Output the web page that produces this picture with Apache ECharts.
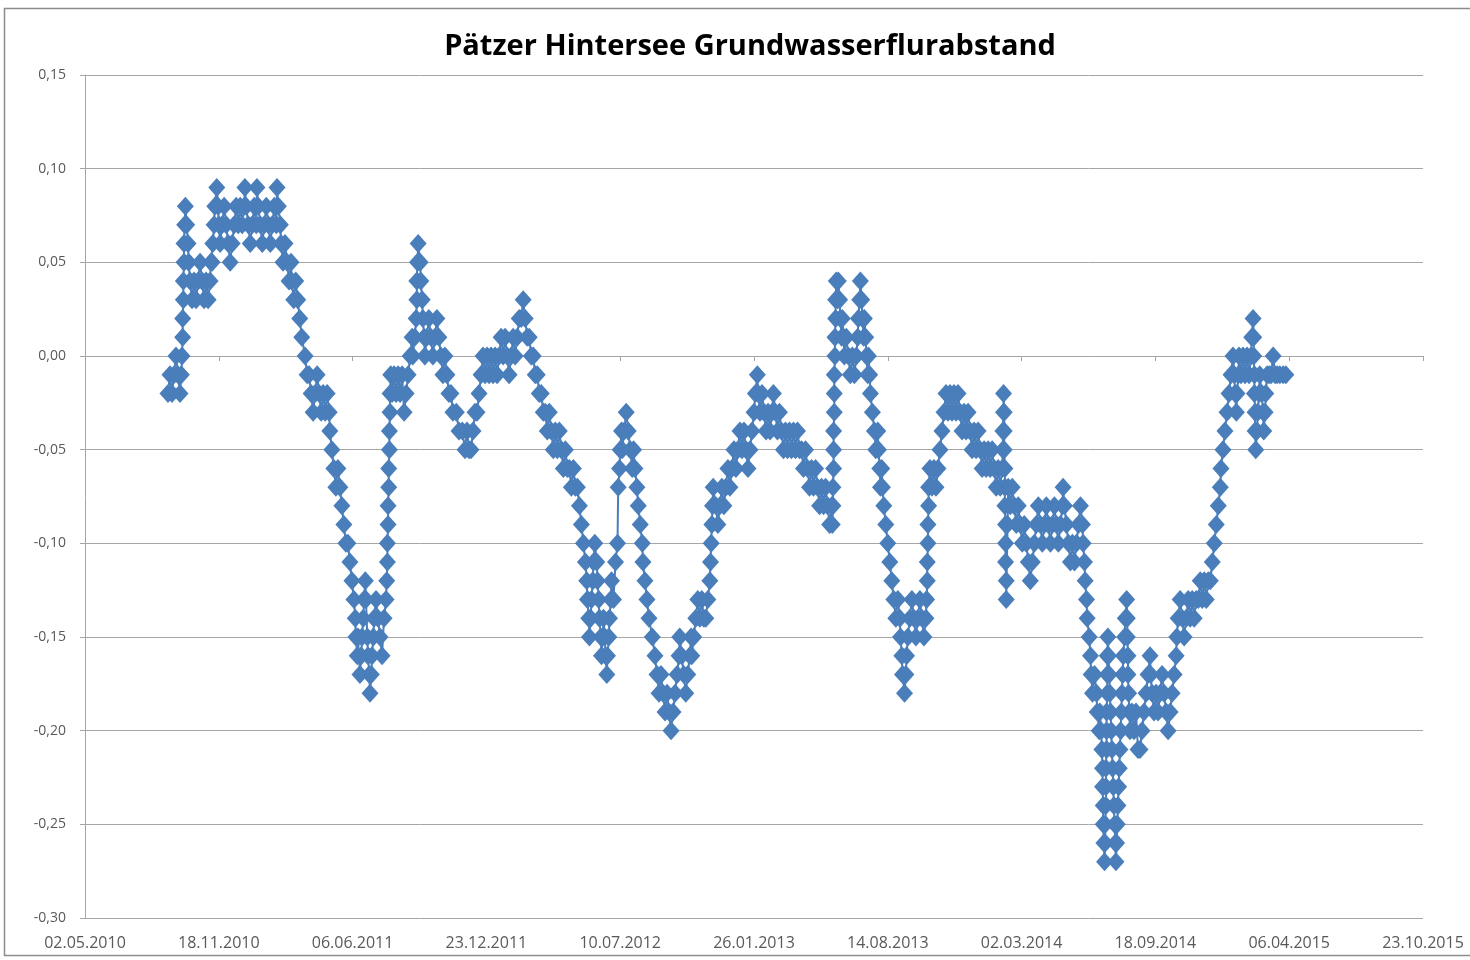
<!DOCTYPE html>
<html>
<head>
<meta charset="utf-8">
<title>Pätzer Hintersee Grundwasserflurabstand</title>
<script src="https://cdn.jsdelivr.net/npm/echarts@6/dist/echarts.min.js"></script>
<style>
  html, body { margin: 0; padding: 0; background: #fff; }
  #chart { width: 1470px; height: 960px; }
</style>
</head>
<body>
<div id="chart"></div>
<script>
// readings: [Excel date serial, Grundwasserflurabstand in m]
const obs2010 = [
  [40424,-0.02],[40427,-0.01],[40430,-0.02],[40433,-0.01],[40436,0.00],[40439,-0.01],[40442,-0.02],[40444,-0.01],[40445,0.00],
  [40446,0.01],[40446,0.02],[40447,0.03],[40447,0.04],[40448,0.05],[40448,0.06],[40449,0.07],[40450,0.08],
  [40452,0.07],[40454,0.06],[40455,0.05],[40457,0.04],[40460,0.03],[40463,0.04],[40466,0.03],[40469,0.04],[40472,0.05],
  [40475,0.04],[40478,0.03],[40481,0.04],[40484,0.03],[40487,0.04],[40488,0.05],[40490,0.05],[40491,0.06],[40493,0.07],
  [40494,0.08],[40497,0.09],[40499,0.08],[40500,0.07],[40502,0.06],[40505,0.07],[40508,0.08],[40511,0.07],[40514,0.06],
  [40517,0.05],[40520,0.06],[40523,0.07],[40526,0.08],[40529,0.07],[40532,0.08],[40535,0.07],[40538,0.08],[40539,0.09],
  [40541,0.08]
];
const obs2011 = [
  [40544,0.07],[40547,0.06],[40550,0.07],[40553,0.08],[40556,0.07],[40557,0.09],[40559,0.08],[40562,0.07],[40565,0.06],
  [40568,0.07],[40571,0.08],[40574,0.07],[40577,0.06],[40580,0.07],[40583,0.08],[40586,0.07],[40587,0.09],[40589,0.08],
  [40592,0.07],[40593,0.06],[40596,0.05],[40599,0.06],[40602,0.05],[40605,0.04],[40608,0.05],[40609,0.04],[40612,0.03],
  [40615,0.04],[40618,0.03],[40621,0.02],[40624,0.01],[40629,0.00],[40632,-0.01],[40635,-0.01],[40638,-0.02],[40641,-0.03],
  [40644,-0.02],[40647,-0.01],[40650,-0.02],[40653,-0.03],[40656,-0.02],[40659,-0.03],[40662,-0.02],[40665,-0.03],[40666,-0.04],
  [40669,-0.05],[40672,-0.06],[40675,-0.07],[40678,-0.06],[40681,-0.07],[40684,-0.08],[40687,-0.09],[40690,-0.10],[40693,-0.10],
  [40696,-0.11],[40699,-0.12],[40702,-0.13],[40704,-0.14],[40705,-0.15],[40707,-0.16],[40708,-0.15],[40711,-0.17],[40713,-0.16],
  [40714,-0.15],[40716,-0.14],[40717,-0.13],[40719,-0.12],[40720,-0.13],[40722,-0.15],[40723,-0.16],[40725,-0.17],[40726,-0.18],
  [40728,-0.17],[40729,-0.16],[40731,-0.15],[40732,-0.14],[40735,-0.13],[40738,-0.14],[40741,-0.15],[40744,-0.16],[40747,-0.14],
  [40750,-0.13],[40751,-0.12],[40752,-0.11],[40752,-0.10],[40753,-0.09],[40753,-0.08],[40754,-0.07],[40754,-0.06],[40755,-0.05],
  [40755,-0.04],[40756,-0.03],[40756,-0.02],[40757,-0.01],[40759,-0.02],[40762,-0.01],[40765,-0.02],[40768,-0.01],[40771,-0.02],
  [40774,-0.01],[40777,-0.03],[40780,-0.02],[40783,-0.01],[40786,0.00],[40789,0.01],[40790,0.00],[40793,0.01],[40795,0.02],
  [40796,0.03],[40796,0.04],[40797,0.05],[40798,0.06],[40801,0.05],[40802,0.04],[40804,0.03],[40805,0.02],[40807,0.01],
  [40808,0.00],[40811,0.01],[40814,0.02],[40817,0.01],[40820,0.00],[40823,0.01],[40826,0.02],[40829,0.01],[40832,0.00],
  [40835,-0.01],[40838,0.00],[40841,-0.01],[40844,-0.02],[40847,-0.02],[40850,-0.03],[40855,-0.03],[40859,-0.04],[40864,-0.04],
  [40868,-0.05],[40871,-0.04],[40874,-0.05],[40877,-0.05],[40880,-0.04],[40883,-0.03],[40886,-0.03],[40889,-0.02],[40892,-0.01],
  [40895,0.00],[40898,-0.01],[40901,0.00],[40904,-0.01],[40907,0.00]
];
const obs2012 = [
  [40910,-0.01],[40913,0.00],[40916,-0.01],[40919,0.00],[40922,0.01],[40925,0.00],[40928,0.01],[40931,0.00],[40934,-0.01],
  [40937,0.00],[40940,0.01],[40943,0.00],[40946,0.01],[40949,0.02],[40952,0.02],[40955,0.03],[40958,0.02],[40961,0.01],
  [40964,0.01],[40967,0.00],[40970,0.00],[40973,-0.01],[40976,-0.01],[40979,-0.02],[40982,-0.02],[40985,-0.03],[40988,-0.03],
  [40991,-0.04],[40994,-0.03],[40997,-0.04],[41000,-0.05],[41003,-0.04],[41006,-0.05],[41009,-0.04],[41012,-0.05],[41015,-0.06],
  [41018,-0.05],[41021,-0.06],[41024,-0.06],[41027,-0.07],[41030,-0.06],[41033,-0.07],[41036,-0.07],[41039,-0.08],[41042,-0.09],
  [41045,-0.10],[41048,-0.11],[41050,-0.12],[41051,-0.13],[41053,-0.14],[41054,-0.15],[41056,-0.14],[41057,-0.13],[41059,-0.12],
  [41060,-0.11],[41062,-0.10],[41065,-0.11],[41066,-0.12],[41068,-0.13],[41069,-0.14],[41071,-0.15],[41072,-0.16],[41074,-0.15],
  [41075,-0.14],[41077,-0.15],[41078,-0.16],[41080,-0.17],[41081,-0.16],[41083,-0.15],[41084,-0.14],[41086,-0.13],[41087,-0.12],
  [41090,-0.13],[41093,-0.11],[41096,-0.10],[41097,-0.07],[41099,-0.06],[41100,-0.05],[41102,-0.04],[41103,-0.05],[41106,-0.04],
  [41109,-0.03],[41112,-0.04],[41115,-0.05],[41118,-0.06],[41120,-0.05],[41122,-0.06],[41125,-0.07],[41127,-0.08],[41130,-0.09],
  [41133,-0.10],[41134,-0.11],[41137,-0.12],[41140,-0.13],[41143,-0.14],[41148,-0.15],[41152,-0.16],[41155,-0.17],[41158,-0.18],
  [41161,-0.17],[41164,-0.18],[41167,-0.19],[41170,-0.18],[41173,-0.19],[41176,-0.20],[41179,-0.19],[41182,-0.18],[41185,-0.17],
  [41188,-0.16],[41189,-0.15],[41192,-0.16],[41195,-0.17],[41198,-0.18],[41201,-0.17],[41204,-0.16],[41206,-0.15],[41207,-0.16],
  [41210,-0.15],[41213,-0.14],[41216,-0.13],[41219,-0.14],[41222,-0.13],[41225,-0.14],[41228,-0.14],[41231,-0.13],[41234,-0.12],
  [41235,-0.11],[41236,-0.10],[41237,-0.09],[41238,-0.08],[41239,-0.07],[41243,-0.08],[41246,-0.09],[41249,-0.08],[41252,-0.07],
  [41255,-0.08],[41258,-0.07],[41261,-0.06],[41264,-0.07],[41267,-0.06],[41270,-0.05],[41273,-0.06]
];
const obs2013 = [
  [41276,-0.05],[41279,-0.04],[41282,-0.05],[41285,-0.04],[41288,-0.05],[41291,-0.06],[41294,-0.05],[41297,-0.04],[41300,-0.03],
  [41302,-0.02],[41305,-0.01],[41306,-0.02],[41309,-0.03],[41312,-0.02],[41315,-0.03],[41318,-0.04],[41321,-0.03],[41324,-0.04],
  [41327,-0.03],[41329,-0.02],[41332,-0.03],[41335,-0.04],[41338,-0.03],[41341,-0.04],[41344,-0.05],[41347,-0.04],[41350,-0.05],
  [41353,-0.04],[41356,-0.05],[41359,-0.04],[41362,-0.05],[41365,-0.04],[41368,-0.05],[41371,-0.05],[41374,-0.06],[41377,-0.05],
  [41380,-0.06],[41383,-0.07],[41386,-0.06],[41389,-0.07],[41392,-0.06],[41395,-0.07],[41398,-0.08],[41401,-0.07],[41404,-0.08],
  [41407,-0.07],[41410,-0.08],[41413,-0.09],[41416,-0.08],[41417,-0.09],
  [41418,-0.08],[41418,-0.07],[41419,-0.06],[41419,-0.05],[41419,-0.04],[41420,-0.03],[41420,-0.02],[41420,-0.01],[41421,0.00],
  [41421,0.01],[41422,0.02],[41422,0.03],[41423,0.04],
  [41425,0.03],[41426,0.04],[41428,0.03],[41429,0.02],[41431,0.01],[41432,0.02],[41434,0.01],[41435,0.00],[41438,0.01],
  [41441,0.00],[41444,-0.01],[41447,0.00],[41450,-0.01],[41453,0.00],[41455,0.01],[41456,0.02],[41458,0.03],[41459,0.04],
  [41461,0.03],[41462,0.02],[41464,0.01],[41465,0.02],[41467,0.01],[41468,0.00],[41470,-0.01],[41471,0.00],[41473,-0.01],
  [41474,-0.02],[41477,-0.03],[41480,-0.04],[41482,-0.05],[41485,-0.04],[41486,-0.05],[41488,-0.06],[41489,-0.07],[41491,-0.06],
  [41492,-0.07],[41494,-0.08],[41497,-0.09],[41500,-0.10],[41503,-0.11],[41506,-0.12],[41509,-0.13],[41512,-0.14],[41515,-0.13],
  [41518,-0.14],[41519,-0.15],[41521,-0.16],[41522,-0.17],[41525,-0.18],[41527,-0.17],[41528,-0.16],[41530,-0.15],[41533,-0.14],
  [41536,-0.13],[41539,-0.14],[41542,-0.15],[41545,-0.14],[41548,-0.13],[41551,-0.14],[41554,-0.15],[41557,-0.14],[41558,-0.13],
  [41559,-0.12],[41559,-0.11],[41560,-0.10],[41560,-0.09],[41561,-0.08],[41561,-0.07],[41563,-0.06],[41566,-0.07],[41569,-0.06],
  [41572,-0.07],[41575,-0.06],[41578,-0.05],[41581,-0.04],[41584,-0.03],[41587,-0.02],[41590,-0.03],[41593,-0.02],[41596,-0.03],
  [41599,-0.02],[41602,-0.03],[41605,-0.02],[41608,-0.03],[41611,-0.04],[41614,-0.03],[41617,-0.04],[41620,-0.03],[41623,-0.04],
  [41626,-0.05],[41629,-0.04],[41632,-0.05],[41635,-0.04],[41638,-0.05]
];
const obs2014 = [
  [41641,-0.06],[41644,-0.05],[41647,-0.06],[41650,-0.05],[41653,-0.06],[41656,-0.05],[41659,-0.06],[41662,-0.07],[41665,-0.06],
  [41668,-0.07],[41671,-0.06],[41672,-0.05],[41672,-0.04],[41673,-0.03],[41673,-0.02],[41674,-0.03],[41674,-0.04],[41674,-0.05],
  [41675,-0.06],[41675,-0.07],[41675,-0.08],[41676,-0.09],[41676,-0.10],[41676,-0.11],[41677,-0.12],[41677,-0.13],[41679,-0.09],
  [41680,-0.07],[41683,-0.08],[41686,-0.07],[41689,-0.08],[41692,-0.09],[41695,-0.08],[41698,-0.09],[41701,-0.10],[41704,-0.09],
  [41707,-0.10],[41710,-0.11],[41713,-0.12],[41716,-0.11],[41719,-0.10],[41722,-0.09],[41725,-0.08],[41728,-0.09],[41731,-0.10],
  [41734,-0.09],[41737,-0.08],[41740,-0.09],[41743,-0.10],[41746,-0.09],[41749,-0.08],[41752,-0.09],[41755,-0.10],[41758,-0.09],
  [41761,-0.08],[41762,-0.07],[41764,-0.08],[41767,-0.09],[41770,-0.10],[41773,-0.11],[41776,-0.10],[41779,-0.11],[41782,-0.10],
  [41785,-0.09],[41788,-0.08],[41791,-0.09],[41792,-0.10],[41794,-0.11],[41795,-0.12],[41797,-0.13],[41798,-0.14],[41801,-0.15],
  [41803,-0.16],[41804,-0.17],[41806,-0.18],[41809,-0.17],[41812,-0.18],[41813,-0.19],[41816,-0.20],[41817,-0.19],[41819,-0.20],
  [41820,-0.21],[41821,-0.22],[41821,-0.23],[41822,-0.24],[41822,-0.25],[41823,-0.26],[41824,-0.27],[41825,-0.26],[41825,-0.25],
  [41826,-0.24],[41826,-0.23],[41826,-0.22],[41827,-0.21],[41827,-0.20],[41827,-0.19],[41828,-0.18],[41828,-0.17],[41828,-0.16],
  [41829,-0.15],[41830,-0.16],[41831,-0.17],[41832,-0.18],[41833,-0.19],[41834,-0.20],[41835,-0.21],[41836,-0.22],[41837,-0.23],
  [41838,-0.24],[41839,-0.25],[41840,-0.26],[41841,-0.27],[41842,-0.26],[41843,-0.25],[41844,-0.24],[41845,-0.23],[41846,-0.22],
  [41847,-0.21],[41848,-0.20],[41849,-0.19],[41850,-0.18],[41851,-0.17],[41852,-0.16],[41854,-0.15],[41855,-0.14],[41857,-0.13],
  [41858,-0.14],[41858,-0.15],[41859,-0.16],[41859,-0.17],[41860,-0.18],[41861,-0.19],[41862,-0.20],[41865,-0.19],[41868,-0.20],
  [41871,-0.19],[41874,-0.21],[41877,-0.21],[41880,-0.20],[41883,-0.19],[41886,-0.18],[41889,-0.17],[41892,-0.16],[41893,-0.17],
  [41895,-0.18],[41898,-0.19],[41901,-0.18],[41904,-0.19],[41907,-0.18],[41910,-0.17],[41913,-0.18],[41916,-0.19],[41919,-0.20],
  [41922,-0.19],[41925,-0.18],[41928,-0.17],[41931,-0.16],[41932,-0.15],[41934,-0.14],[41937,-0.13],[41940,-0.14],[41943,-0.15],
  [41946,-0.14],[41949,-0.13],[41952,-0.14],[41955,-0.13],[41958,-0.14],[41961,-0.13],[41964,-0.13],[41967,-0.12],[41970,-0.13],
  [41973,-0.12],[41976,-0.13],[41979,-0.12],[41982,-0.12],[41985,-0.11],[41988,-0.10],[41991,-0.09],[41994,-0.08],[41997,-0.07],
  [41998,-0.06],[42001,-0.05],[42004,-0.04]
];
const obs2015 = [
  [42007,-0.03],[42010,-0.02],[42013,-0.01],[42016,0.00],[42018,-0.01],[42019,-0.02],[42021,-0.03],[42022,-0.02],[42024,-0.01],
  [42025,0.00],[42028,-0.01],[42031,0.00],[42034,-0.01],[42037,0.00],[42040,-0.01],[42043,0.00],[42044,0.01],[42046,0.02],
  [42047,0.01],[42047,0.00],[42048,-0.01],[42048,-0.02],[42049,-0.03],[42049,-0.04],[42050,-0.05],[42052,-0.04],[42053,-0.03],
  [42055,-0.02],[42056,-0.01],[42059,-0.02],[42061,-0.03],[42062,-0.04],[42064,-0.03],[42065,-0.02],[42067,-0.01],[42070,-0.01],
  [42073,-0.01],[42076,0.00],[42079,-0.01],[42082,-0.01],[42086,-0.01],[42091,-0.01],[42095,-0.01]
];

// axis scales: x in days after 02.05.2010 (serial 40300), ticks every 200 days
const xStartSerial = 40300;
const xSpanDays = 2000;
const xStepDays = 200;
const yMin = -0.3, yMax = 0.15, yStep = 0.05;

const blue = '#4a7ebb';
const gridGrey = '#a6a6a6';
const labelGrey = '#595959';

function pad(n) {
  return n < 10 ? '0' + n : '' + n;
}

// Excel serial -> dd.mm.yyyy
function serialLabel(serial) {
  const d = new Date(Date.UTC(1899, 11, 30) + serial * 86400000);
  return pad(d.getUTCDate()) + '.' + pad(d.getUTCMonth() + 1) + '.' + d.getUTCFullYear();
}

const points = []
  .concat(obs2010, obs2011, obs2012, obs2013, obs2014, obs2015)
  .map(p => [p[0] - xStartSerial, p[1]]);

const chart = echarts.init(document.getElementById('chart'));

chart.setOption({
  animation: false,
  backgroundColor: '#fff',
  title: {
    text: 'Pätzer Hintersee Grundwasserflurabstand',
    left: 745,
    top: 27,
    textAlign: 'center',
    textStyle: {
      fontFamily: 'Open Sans',
      fontWeight: 'bold',
      fontSize: 29,
      color: '#000'
    }
  },
  graphic: [
    {
      type: 'rect',
      silent: true,
      shape: { x: 4.5, y: 8.5, width: 1470, height: 947 },
      style: { fill: 'none', stroke: '#8c8c8c', lineWidth: 1.5 }
    }
  ],
  grid: {
    left: 85,
    right: 47,
    top: 75,
    bottom: 42,
    containLabel: false,
    outerBoundsMode: 'none'
  },
  xAxis: [
    {
      type: 'value',
      min: 0,
      max: xSpanDays,
      interval: xStepDays,
      position: 'bottom',
      axisLine: { show: false, onZero: false },
      axisTick: { show: false },
      splitLine: { show: false },
      axisLabel: {
        margin: 17,
        fontFamily: 'Open Sans',
        fontSize: 16,
        color: labelGrey,
        formatter: v => serialLabel(v + xStartSerial)
      }
    },
    {
      // Excel draws the category line where y = 0
      type: 'value',
      min: 0,
      max: xSpanDays,
      interval: xStepDays,
      position: 'top',
      axisLine: { show: true, onZero: true, lineStyle: { color: gridGrey, width: 1 } },
      axisTick: { show: true, inside: true, length: 5, lineStyle: { color: gridGrey } },
      axisLabel: { show: false },
      splitLine: { show: false }
    }
  ],
  yAxis: {
    type: 'value',
    min: yMin,
    max: yMax,
    interval: yStep,
    axisLine: { show: true, onZero: false, lineStyle: { color: gridGrey, width: 1 } },
    axisTick: { show: true, length: 5, lineStyle: { color: gridGrey } },
    splitLine: { lineStyle: { color: gridGrey, width: 1 } },
    axisLabel: {
      margin: 19,
      fontFamily: 'Open Sans',
      fontSize: 14,
      color: labelGrey,
      formatter: v => v.toFixed(2).replace('.', ',')
    }
  },
  series: [
    {
      name: 'Grundwasserflurabstand',
      type: 'line',
      xAxisIndex: 0,
      data: points,
      symbol: 'diamond',
      symbolSize: [17, 19],
      showAllSymbol: true,
      itemStyle: { color: blue },
      lineStyle: { color: blue, width: 2 }
    }
  ]
});
</script>
</body>
</html>
